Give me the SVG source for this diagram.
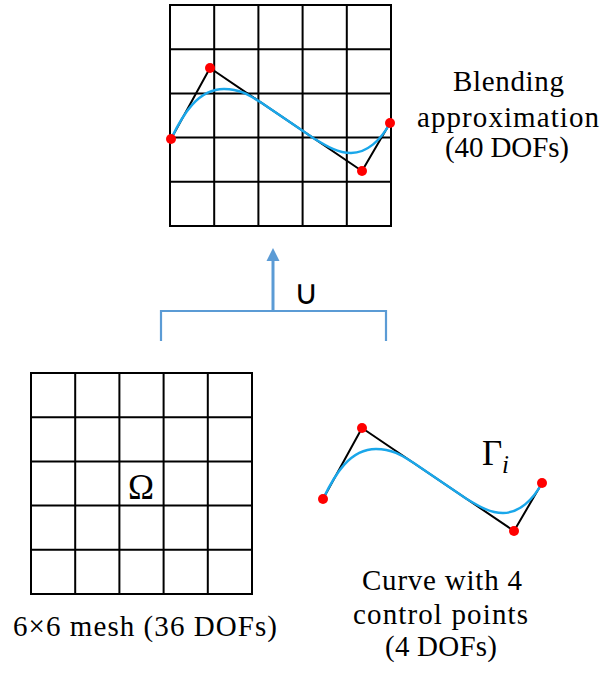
<svg xmlns="http://www.w3.org/2000/svg" xmlns:xlink="http://www.w3.org/1999/xlink" width="603" height="673" viewBox="0 0 603 673">
<style>
.grid{fill:none;stroke:#000;stroke-width:2}
.poly{fill:none;stroke:#000;stroke-width:2;stroke-linejoin:round}
.spline{fill:none;stroke:#1aa7ea;stroke-width:2.5}
.pt{fill:#ff0000}
.lbl{font-family:"Liberation Serif","Times New Roman",serif;font-size:29px;fill:#000}
.conn{fill:none;stroke:#5b9bd5;stroke-width:2.2}
</style>
<defs>
<path id="mesh" class="grid" d="M0,0H221V221H0Z M44.2,0V221 M88.4,0V221 M132.6,0V221 M176.8,0V221 M0,44.2H221 M0,88.4H221 M0,132.6H221 M0,176.8H221"/>
<g id="curve">
<path class="poly" d="M171,139 L210,68 L362,171 L390,123"/>
<path class="spline" d="M171,139 C183,114 198,89 224,89 C242,89 252,97 264,104.5 L314,138.5 C328,147 338,153 351,153 C367,153 381,140 390,123"/>
<circle class="pt" cx="171" cy="139" r="5"/>
<circle class="pt" cx="210" cy="68" r="5"/>
<circle class="pt" cx="362" cy="171" r="5"/>
<circle class="pt" cx="390" cy="123" r="5"/>
</g>
</defs>
<g id="blending">
<use xlink:href="#mesh" x="170" y="5"/>
<use xlink:href="#curve"/>
<text class="lbl" x="453" y="91" textLength="111">Blending</text>
<text class="lbl" x="417" y="127" textLength="182">approximation</text>
<text class="lbl" x="445" y="157" textLength="124">(40 DOFs)</text>
</g>
<g id="mesh-node">
<use xlink:href="#mesh" x="31" y="373"/>
<text class="lbl" x="141" y="499" text-anchor="middle" style="font-size:35px">Ω</text>
<text class="lbl" x="13" y="636" textLength="264">6×6 mesh (36 DOFs)</text>
</g>
<g id="curve-node">
<use xlink:href="#curve" transform="translate(152,360)"/>
<text class="lbl" x="482" y="465" style="font-size:35px">Γ</text>
<text class="lbl" x="502" y="473" style="font-size:25px;font-style:italic">i</text>
<text class="lbl" x="362" y="590" textLength="160">Curve with 4</text>
<text class="lbl" x="353" y="624" textLength="175">control points</text>
<text class="lbl" x="385" y="656" textLength="112">(4 DOFs)</text>
</g>
<g id="connectors">
<path class="conn" d="M161,341V311H386V341"/>
<path class="conn" d="M273,311V259" style="stroke-width:3"/>
<polygon points="273,248 266.5,261 279.5,261" fill="#5b9bd5"/>
<text x="306.5" y="304" text-anchor="middle" style="font-family:'DejaVu Sans',sans-serif;font-size:34px;fill:#000">∪</text>
</g>
</svg>
